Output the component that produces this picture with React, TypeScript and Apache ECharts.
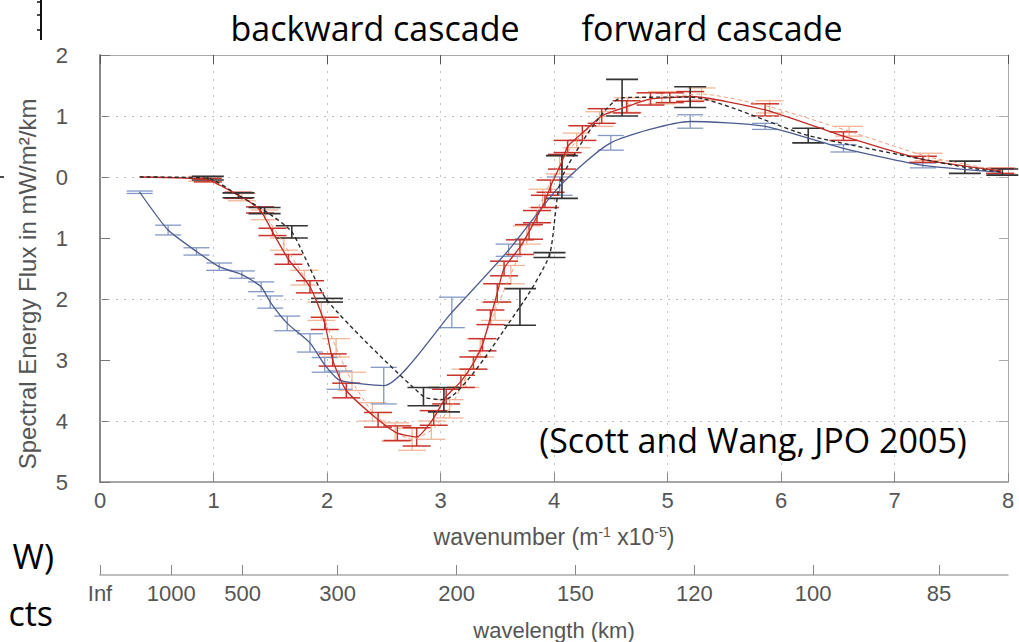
import React, { useEffect, useRef } from "react";
import * as echarts from "echarts";

// ---------- data ----------
const dottedGridY = [1, 0, -2, -4];
const wavelengthKm = [Infinity, 1000, 500, 300, 200, 150, 120, 100, 85];
const wavelengthLabels = ["Inf", "1000", "500", "300", "200", "150", "120", "100", "85"];

const blueK = [0.35, 0.6, 0.85, 1.05, 1.25, 1.42, 1.5, 1.65, 1.85, 1.98, 2.11, 2.5, 3.1, 3.6, 4.05, 4.5, 5.2, 5.86, 6.55, 7.25, 7.93];
const blueV = [-0.25, -0.87, -1.22, -1.47, -1.6, -1.8, -2.05, -2.4, -2.72, -3.08, -3.33, -3.42, -2.22, -1.2, -0.15, 0.56, 0.91, 0.83, 0.47, 0.19, 0.08];
const blueE = [0.02, 0.08, 0.06, 0.06, 0.06, 0.08, 0.1, 0.12, 0.15, 0.12, 0.15, 0.3, 0.25, 0.1, 0.15, 0.12, 0.11, 0.05, 0.06, 0.04, 0.05];

const redK = [0.35, 0.95, 1.22, 1.41, 1.52, 1.66, 1.85, 1.98, 2.05, 2.17, 2.45, 2.62, 2.79, 2.94, 3.05, 3.18, 3.29, 3.37, 3.44, 3.5, 3.56, 3.7, 3.78, 3.85, 3.92, 3.97, 4.07, 4.12, 4.25, 4.42, 4.64, 4.85, 5.02, 5.2, 5.86, 6.55, 7.25, 7.93];
const redV = [0, -0.05, -0.3, -0.54, -0.9, -1.35, -1.8, -2.4, -3.0, -3.5, -3.98, -4.2, -4.26, -3.95, -3.6, -3.35, -3.05, -2.75, -2.3, -1.9, -1.5, -1.15, -0.9, -0.65, -0.4, -0.15, 0.25, 0.5, 0.72, 1.0, 1.15, 1.28, 1.3, 1.32, 1.1, 0.67, 0.29, 0.1];
const redE = [0, 0.03, 0.05, 0.05, 0.06, 0.08, 0.1, 0.1, 0.1, 0.12, 0.12, 0.12, 0.15, 0.12, 0.12, 0.1, 0.1, 0.1, 0.12, 0.15, 0.12, 0.12, 0.12, 0.1, 0.1, 0.1, 0.12, 0.1, 0.12, 0.12, 0.1, 0.1, 0.08, 0.08, 0.1, 0.07, 0.05, 0.04];

const orangeK = [0.35, 0.9, 1.25, 1.45, 1.62, 1.8, 1.95, 2.08, 2.22, 2.4, 2.6, 2.75, 2.92, 3.08, 3.22, 3.35, 3.48, 3.62, 3.76, 3.9, 4.05, 4.2, 4.4, 4.65, 4.95, 5.3, 5.9, 6.6, 7.3, 7.95];
const orangeV = [0, -0.03, -0.33, -0.62, -1.1, -1.65, -2.2, -2.8, -3.35, -3.85, -4.18, -4.3, -4.15, -3.8, -3.3, -2.8, -2.2, -1.6, -0.95, -0.35, 0.2, 0.6, 0.95, 1.18, 1.3, 1.36, 1.15, 0.75, 0.33, 0.1];
const orangeE = [0, 0.04, 0.06, 0.08, 0.1, 0.12, 0.15, 0.15, 0.15, 0.15, 0.15, 0.18, 0.15, 0.15, 0.15, 0.15, 0.15, 0.15, 0.15, 0.15, 0.15, 0.12, 0.12, 0.12, 0.1, 0.1, 0.1, 0.08, 0.06, 0.05];

const blackK = [0.35, 0.95, 1.22, 1.45, 1.69, 2.0, 2.85, 3.03, 3.7, 3.96, 4.07, 4.6, 5.2, 6.24, 7.62, 7.95];
const blackV = [0, -0.02, -0.3, -0.55, -0.9, -2.02, -3.6, -3.65, -2.13, -1.28, 0.0, 1.3, 1.31, 0.68, 0.16, 0.08];
const blackE = [0, 0.03, 0.04, 0.05, 0.1, 0.03, 0.15, 0.2, 0.3, 0.04, 0.35, 0.3, 0.17, 0.12, 0.1, 0.05];

// ---------- helpers ----------
const PLOT_FONT = "'Liberation Sans', Arial, sans-serif";
const SLIDE_FONT = "'Open Sans', 'Noto Sans', sans-serif";
const TXT = "#555";

const wavelengthPos = wavelengthKm.map((l) => (isFinite(l) ? 628.32 / l : 0));

function pairs(k: number[], v: number[]) {
  return k.map((kk, i) => [kk, v[i]]);
}

function errorBars(name: string, k: number[], v: number[], e: number[], color: string, capHalf: number, lw: number, z: number) {
  return {
    type: "custom",
    name,
    xAxisIndex: 0,
    yAxisIndex: 0,
    silent: true,
    z,
    data: k.map((kk, i) => [kk, v[i], e[i]]),
    encode: { x: 0, y: 1 },
    renderItem: (params: any, api: any) => {
      const x = api.value(0);
      const y = api.value(1);
      const err = api.value(2);
      if (!err) return { type: "group", children: [] };
      const top = api.coord([x, y + err]);
      const bot = api.coord([x, y - err]);
      const style = { stroke: color, lineWidth: lw };
      return {
        type: "group",
        children: [
          { type: "line", shape: { x1: top[0], y1: top[1], x2: bot[0], y2: bot[1] }, style },
          { type: "line", shape: { x1: top[0] - capHalf, y1: top[1], x2: top[0] + capHalf, y2: top[1] }, style },
          { type: "line", shape: { x1: bot[0] - capHalf, y1: bot[1], x2: bot[0] + capHalf, y2: bot[1] }, style },
        ],
      };
    },
  };
}

function lineSeries(name: string, k: number[], v: number[], color: string, width: number, type: any, z: number, extra: any = {}) {
  return {
    type: "line",
    name,
    xAxisIndex: 0,
    yAxisIndex: 0,
    data: pairs(k, v),
    showSymbol: false,
    symbol: "none",
    smooth: 0.2,
    silent: true,
    z,
    lineStyle: { color, width, type },
    ...extra,
  };
}

export default function App() {
  const ref = useRef<HTMLDivElement>(null);

  useEffect(() => {
    if (!ref.current) return;
    const chart = echarts.init(ref.current, undefined, { renderer: "svg" });

    const option: any = {
      animation: false,
      backgroundColor: "#ffffff",
      grid: [
        { left: 100, right: 11, top: 55, bottom: 160, show: false },
        { left: 100, right: 11, top: 565, height: 10, show: false },
      ],
      xAxis: [
        {
          gridIndex: 0,
          type: "value",
          min: 0,
          max: 8,
          interval: 1,
          position: "bottom",
          axisLine: { show: true, onZero: false, lineStyle: { color: "#888", width: 1.5 } },
          axisTick: { show: true, inside: true, length: 9, lineStyle: { color: "#888" } },
          axisLabel: { color: TXT, fontSize: 22, fontFamily: PLOT_FONT, margin: 7 },
          splitLine: { show: true, lineStyle: { color: "#c4c4c4", type: [2, 6], width: 1 } },
          name: "wavenumber (m{sup|-1} x10{sup|-5})",
          nameLocation: "middle",
          nameGap: 43,
          nameTextStyle: {
            color: TXT,
            fontSize: 23,
            fontFamily: PLOT_FONT,
            rich: {
              sup: { fontSize: 14, fontFamily: PLOT_FONT, color: TXT, padding: [0, 0, 10, 0] },
            },
          },
        },
        {
          gridIndex: 0,
          type: "value",
          min: 0,
          max: 8,
          interval: 1,
          position: "top",
          axisLine: { show: true, onZero: false, lineStyle: { color: "#aaa", width: 1 } },
          axisTick: { show: true, inside: true, length: 9, lineStyle: { color: "#555" } },
          axisLabel: { show: false },
          splitLine: { show: false },
        },
        {
          gridIndex: 1,
          type: "value",
          min: 0,
          max: 8,
          position: "bottom",
          axisLine: { show: true, onZero: false, lineStyle: { color: "#aaa", width: 1.5 } },
          axisTick: { show: true, inside: true, length: 10, customValues: wavelengthPos, lineStyle: { color: "#888" } },
          axisLabel: {
            color: TXT,
            fontSize: 22,
            fontFamily: PLOT_FONT,
            margin: 7,
            customValues: wavelengthPos,
            formatter: (val: number) => {
              let best = 0;
              let bd = Infinity;
              wavelengthPos.forEach((p, i) => {
                const d = Math.abs(p - val);
                if (d < bd) {
                  bd = d;
                  best = i;
                }
              });
              return wavelengthLabels[best];
            },
          },
          splitLine: { show: false },
          name: "wavelength (km)",
          nameLocation: "middle",
          nameGap: 44,
          nameTextStyle: { color: TXT, fontSize: 22, fontFamily: PLOT_FONT },
        },
      ],
      yAxis: [
        {
          gridIndex: 0,
          type: "value",
          min: -5,
          max: 2,
          interval: 1,
          position: "left",
          axisLine: { show: true, onZero: false, lineStyle: { color: "#888", width: 2 } },
          axisTick: { show: true, inside: true, length: 10, lineStyle: { color: "#777" } },
          axisLabel: {
            color: TXT,
            fontSize: 22,
            fontFamily: PLOT_FONT,
            margin: 32,
            formatter: (v: number) => String(Math.abs(v)),
          },
          splitLine: { show: false },
        },
        {
          gridIndex: 0,
          type: "value",
          min: -5,
          max: 2,
          interval: 1,
          position: "right",
          axisLine: { show: true, onZero: false, lineStyle: { color: "#aaa", width: 1 } },
          axisTick: { show: true, inside: true, length: 9, lineStyle: { color: "#aaa" } },
          axisLabel: { show: false },
          splitLine: { show: false },
        },
        { gridIndex: 1, type: "value", min: 0, max: 1, show: false },
      ],
      series: [
        errorBars("orangeErr", orangeK, orangeV, orangeE, "#f3b597", 14, 1.3, 2),
        errorBars("blueErr", blueK, blueV, blueE, "#8398c6", 13, 1.3, 3),
        errorBars("redErr", redK, redV, redE, "#c9332b", 14, 1.5, 4),
        errorBars("blackErr", blackK, blackV, blackE, "#333333", 16, 1.6, 5),
        lineSeries("orange", orangeK, orangeV, "#ee9f7c", 1, [4, 3], 6),
        lineSeries("blue", blueK, blueV, "#4b5a8e", 1.3, "solid", 7, {
          markLine: {
            silent: true,
            symbol: ["none", "none"],
            label: { show: false },
            lineStyle: { color: "#bdbdbd", type: [2, 6], width: 1 },
            data: dottedGridY.map((y) => ({ yAxis: y })),
          },
        }),
        lineSeries("red", redK, redV, "#c22b24", 1.3, "solid", 8),
        lineSeries("black", blackK, blackV, "#2a2a2a", 1.4, [4, 3], 9),
      ],
      graphic: [
        {
          type: "text",
          x: 27,
          y: 284,
          rotation: Math.PI / 2,
          style: {
            text: "Spectral Energy Flux in mW/m²/km",
            fill: TXT,
            font: `24px ${PLOT_FONT}`,
            align: "center",
            verticalAlign: "middle",
          },
        },
        {
          type: "text",
          x: 375,
          y: 28,
          style: { text: "backward cascade", fill: "#000", font: `34px ${SLIDE_FONT}`, align: "center", verticalAlign: "middle" },
        },
        {
          type: "text",
          x: 712,
          y: 28,
          style: { text: "forward cascade", fill: "#000", font: `34px ${SLIDE_FONT}`, align: "center", verticalAlign: "middle" },
        },
        {
          type: "text",
          x: 753,
          y: 440,
          z: 20,
          style: { text: "(Scott and Wang, JPO 2005)", fill: "#000", font: `34px ${SLIDE_FONT}`, align: "center", verticalAlign: "middle" },
        },
        {
          type: "text",
          x: 54,
          y: 556,
          style: { text: "W)", fill: "#000", font: `34px ${SLIDE_FONT}`, align: "right", verticalAlign: "middle" },
        },
        {
          type: "text",
          x: 53,
          y: 613,
          style: { text: "cts", fill: "#000", font: `34px ${SLIDE_FONT}`, align: "right", verticalAlign: "middle" },
        },
        { type: "line", shape: { x1: 41, y1: 0, x2: 41, y2: 40 }, style: { stroke: "#111", lineWidth: 2 } },
        { type: "line", shape: { x1: 37, y1: 2, x2: 41, y2: 2 }, style: { stroke: "#111", lineWidth: 1.5 } },
        { type: "line", shape: { x1: 37, y1: 15, x2: 41, y2: 15 }, style: { stroke: "#111", lineWidth: 1.5 } },
        { type: "line", shape: { x1: 37, y1: 30, x2: 41, y2: 30 }, style: { stroke: "#111", lineWidth: 1.5 } },
        { type: "line", shape: { x1: 0, y1: 177, x2: 4, y2: 177 }, style: { stroke: "#111", lineWidth: 1.5 } },
      ],
    };

    chart.setOption(option);
    return () => chart.dispose();
  }, []);

  return <div ref={ref} style={{ position: "absolute", left: 0, top: 0, width: 1019, height: 642 }} />;
}
